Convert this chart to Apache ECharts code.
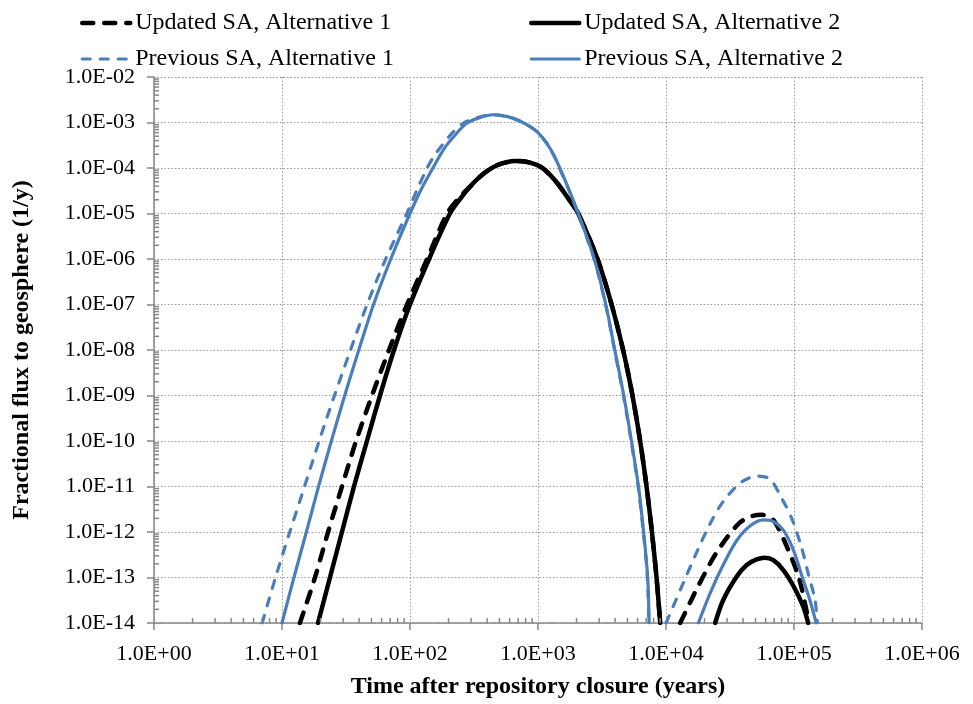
<!DOCTYPE html>
<html>
<head>
<meta charset="utf-8">
<script src="https://cdn.jsdelivr.net/npm/echarts@6/dist/echarts.min.js"></script>
<style>
  html, body { margin: 0; padding: 0; background: #fff; }
  #chart { width: 973px; height: 704px; }
</style>
</head>
<body>
<div id="chart"></div>
<script>
// [years, fractional flux (1/y)]; GAP breaks a curve between its two humps
const GAP = ['-', '-']

const updatedAlt1 = [
  [13.8, 1e-14], [18.1, 1e-13], [22.9, 1e-12], [29.4, 1e-11], [37.9, 1e-10], [50.5, 1e-9],
  [68.5, 1e-8], [94.8, 1e-7], [136, 1e-6], [195, 1e-5], [245, 2.3e-5], [295, 3.9e-5],
  [347, 6.2e-5], [407, 8.9e-5], [479, 1.15e-4], [562, 1.33e-4], [661, 1.43e-4], [759, 1.41e-4],
  [851, 1.33e-4], [977, 1.17e-4], [1084, 1e-4], [1259, 6.8e-5], [1445, 4.3e-5], [1660, 2.5e-5],
  [1862, 1.58e-5], [2065, 1e-5], [2917, 1e-6], [3758, 1e-7], [4624, 1e-8], [5470, 1e-9],
  [6281, 1e-10], [7047, 1e-11], [7762, 1e-12], [8433, 1e-13], [9000, 1e-14],
  GAP,
  [1.29e4, 1e-14], [1.54e4, 2.8e-14], [1.79e4, 6.6e-14], [2.46e4, 3.4e-13], [3.67e4, 1.5e-12],
  [4.6e4, 2.2e-12], [5.6e4, 2.4e-12], [6.9e4, 1.84e-12], [8.9e4, 4.4e-13], [1.1e5, 9.1e-14],
  [1.29e5, 1.26e-14], [1.31e5, 1e-14]
]

const updatedAlt2 = [
  [19.1, 1e-14], [23.7, 1e-13], [29.4, 1e-12], [36.5, 1e-11], [46.1, 1e-10], [58.3, 1e-9],
  [75, 1e-8], [100, 1e-7], [141, 1e-6], [205, 1e-5], [251, 2.24e-5], [295, 3.9e-5],
  [347, 6.2e-5], [407, 8.9e-5], [479, 1.15e-4], [562, 1.33e-4], [661, 1.43e-4], [759, 1.41e-4],
  [851, 1.33e-4], [977, 1.17e-4], [1084, 1e-4], [1259, 6.8e-5], [1445, 4.3e-5], [1660, 2.5e-5],
  [1862, 1.58e-5], [2065, 1e-5], [2917, 1e-6], [3758, 1e-7], [4624, 1e-8], [5470, 1e-9],
  [6281, 1e-10], [7047, 1e-11], [7762, 1e-12], [8433, 1e-13], [9016, 1e-14],
  GAP,
  [2.42e4, 1e-14], [2.8e4, 3.2e-14], [3.57e4, 1.05e-13], [4.27e4, 1.88e-13], [5.1e4, 2.5e-13],
  [5.93e4, 2.72e-13], [6.9e4, 2.4e-13], [8.25e4, 1.46e-13], [9.9e4, 6.5e-14], [1.18e5, 2.3e-14],
  [1.29e5, 1e-14]
]

const previousAlt1 = [
  [7.0, 1e-14], [8.9, 1e-13], [11.5, 1e-12], [15.0, 1e-11], [19.5, 1e-10], [25.7, 1e-9],
  [34.3, 1e-8], [46.2, 1e-7], [64.6, 1e-6], [94.4, 1e-5], [113.5, 3.3e-5], [136, 1e-4],
  [155, 1.86e-4], [178, 3.16e-4], [214, 5.9e-4], [260, 9.6e-4], [331, 1.26e-3], [437, 1.48e-3],
  [579, 1.35e-3], [700, 1.12e-3], [867, 8.1e-4], [1000, 6e-4], [1170, 3.5e-4], [1318, 2e-4],
  [1470, 1e-4], [1750, 3.2e-5], [2050, 1e-5], [2740, 1e-6], [3370, 1e-7], [3960, 1e-8],
  [4650, 1e-9], [5340, 1e-10], [6060, 1e-11], [6650, 1e-12], [7160, 1e-13], [7340, 1e-14],
  GAP,
  [1.0e4, 1e-14], [1.36e4, 7.4e-14], [1.76e4, 3.9e-13], [2.23e4, 1.6e-12], [2.8e4, 4.7e-12],
  [3.9e4, 1.26e-11], [5.2e4, 1.7e-11], [6.5e4, 1.45e-11], [8.1e4, 5.2e-12], [9.6e4, 2e-12],
  [1.15e5, 4.4e-13], [1.29e5, 1.23e-13], [1.46e5, 3.2e-14], [1.52e5, 1e-14]
]

const previousAlt2 = [
  [10, 1e-14], [12.4, 1e-13], [15.5, 1e-12], [19.3, 1e-11], [24.3, 1e-10], [30.9, 1e-9],
  [39.8, 1e-8], [51.9, 1e-7], [70.8, 1e-6], [100, 1e-5], [123, 3.5e-5], [151, 1e-4],
  [187, 2.8e-4], [229, 5.6e-4], [277, 9.6e-4], [350, 1.28e-3], [447, 1.48e-3], [579, 1.35e-3],
  [700, 1.12e-3], [867, 8.1e-4], [1000, 6e-4], [1170, 3.5e-4], [1318, 2e-4], [1479, 1e-4],
  [1758, 3.2e-5], [2065, 1e-5], [2754, 1e-6], [3388, 1e-7], [3981, 1e-8], [4677, 1e-9],
  [5370, 1e-10], [6095, 1e-11], [6683, 1e-12], [7194, 1e-13], [7379, 1e-14],
  GAP,
  [1.79e4, 1e-14], [2.21e4, 4.5e-14], [2.8e4, 1.9e-13], [3.57e4, 6.5e-13], [4.53e4, 1.35e-12],
  [5.76e4, 1.84e-12], [6.9e4, 1.7e-12], [8.25e4, 1.1e-12], [9.9e4, 4e-13], [1.18e5, 8.8e-14],
  [1.33e5, 3.2e-14], [1.49e5, 1e-14]
]

// decades of both axes and the 2..9 minor tick mantissas
const xDecades = [1, 10, 100, 1e3, 1e4, 1e5]
const yDecades = [1e-14, 1e-13, 1e-12, 1e-11, 1e-10, 1e-9, 1e-8, 1e-7, 1e-6, 1e-5, 1e-4, 1e-3]
const minorMantissas = [2, 3, 4, 5, 6, 7, 8, 9]

const FONT = '"Liberation Serif", "Times New Roman", serif'
const AXIS_GREY = '#868686'
const GRID_GREY = '#9a9a9a'
const BLUE = '#4A7EBB'

const xMinor = []
xDecades.forEach(d => minorMantissas.forEach(m => xMinor.push([m * d, 1e-14])))
const yMinor = []
yDecades.forEach(d => minorMantissas.forEach(m => yMinor.push([1, m * d])))

function sciLabel(v) {
  const e = Math.round(Math.log10(v))
  return '1.0E' + (e < 0 ? '-' : '+') + String(Math.abs(e)).padStart(2, '0')
}

// short inward tick drawn at a data position on the axis
function minorTickRenderer(dx, dy) {
  return function(params, api) {
    const p = api.coord([api.value(0), api.value(1)])
    return {
      type: 'line',
      shape: { x1: p[0], y1: p[1], x2: p[0] + dx, y2: p[1] + dy },
      style: { stroke: AXIS_GREY, lineWidth: 1.5 }
    }
  }
}

function curve(name, data, color, width, dash, z) {
  return {
    name: name,
    type: 'line',
    data: data,
    showSymbol: false,
    symbol: 'none',
    smooth: 0.3,
    connectNulls: false,
    z: z,
    itemStyle: { color: color, opacity: 0 },
    lineStyle: { color: color, width: width, type: dash, cap: 'round' }
  }
}

const chart = echarts.init(document.getElementById('chart'))

const legendCommon = {
  orient: 'vertical',
  top: 6,
  itemWidth: 48,
  itemHeight: 14,
  itemGap: 12,
  itemStyle: { opacity: 0 },
  lineStyle: { width: 'inherit', type: 'inherit', cap: 'round' },
  textStyle: { fontFamily: FONT, fontSize: 24, color: '#000' }
}

chart.setOption({
  animation: false,
  backgroundColor: '#fff',
  legend: [
    Object.assign({ left: 75, data: ['Updated SA, Alternative 1', 'Previous SA, Alternative 1'] }, legendCommon),
    Object.assign({ left: 524, data: ['Updated SA, Alternative 2', 'Previous SA, Alternative 2'] }, legendCommon)
  ],
  grid: {
    left: 154,
    right: 51,
    top: 77,
    bottom: 80,
    containLabel: false
  },
  xAxis: {
    type: 'log',
    logBase: 10,
    min: 1,
    max: 1e6,
    interval: 1,
    name: 'Time after repository closure (years)',
    nameLocation: 'middle',
    nameGap: 52,
    nameTextStyle: { fontFamily: FONT, fontSize: 24, fontWeight: 'bold', color: '#000' },
    axisLine: { lineStyle: { color: AXIS_GREY, width: 1.5 } },
    axisTick: { show: true, inside: false, length: 7, lineStyle: { color: AXIS_GREY, width: 1.5 } },
    axisLabel: { formatter: sciLabel, fontFamily: FONT, fontSize: 22, color: '#000', margin: 20 },
    splitLine: { show: true, lineStyle: { color: GRID_GREY, type: [1.5, 2], width: 1 } }
  },
  yAxis: {
    type: 'log',
    logBase: 10,
    min: 1e-14,
    max: 1e-2,
    interval: 1,
    name: 'Fractional flux to geosphere (1/y)',
    nameLocation: 'middle',
    nameGap: 120,
    nameTextStyle: { fontFamily: FONT, fontSize: 24, fontWeight: 'bold', color: '#000' },
    axisLine: { show: true, lineStyle: { color: AXIS_GREY, width: 1.5 } },
    axisTick: { show: true, inside: false, length: 7, lineStyle: { color: AXIS_GREY, width: 1.5 } },
    axisLabel: { formatter: sciLabel, fontFamily: FONT, fontSize: 22, color: '#000', margin: 19 },
    splitLine: { show: true, lineStyle: { color: GRID_GREY, type: [1.5, 2], width: 1 } }
  },
  series: [
    curve('Updated SA, Alternative 1', updatedAlt1, '#000', 4.5, [11, 11], 4),
    curve('Updated SA, Alternative 2', updatedAlt2, '#000', 4.5, 'solid', 4),
    curve('Previous SA, Alternative 1', previousAlt1, BLUE, 3.2, [8, 10], 5),
    curve('Previous SA, Alternative 2', previousAlt2, BLUE, 3.2, 'solid', 5),
    {
      type: 'custom',
      data: xMinor,
      clip: false,
      silent: true,
      z: 6,
      renderItem: minorTickRenderer(0, -5)
    },
    {
      type: 'custom',
      data: yMinor,
      clip: false,
      silent: true,
      z: 6,
      renderItem: minorTickRenderer(5, 0)
    }
  ]
})
</script>
</body>
</html>
